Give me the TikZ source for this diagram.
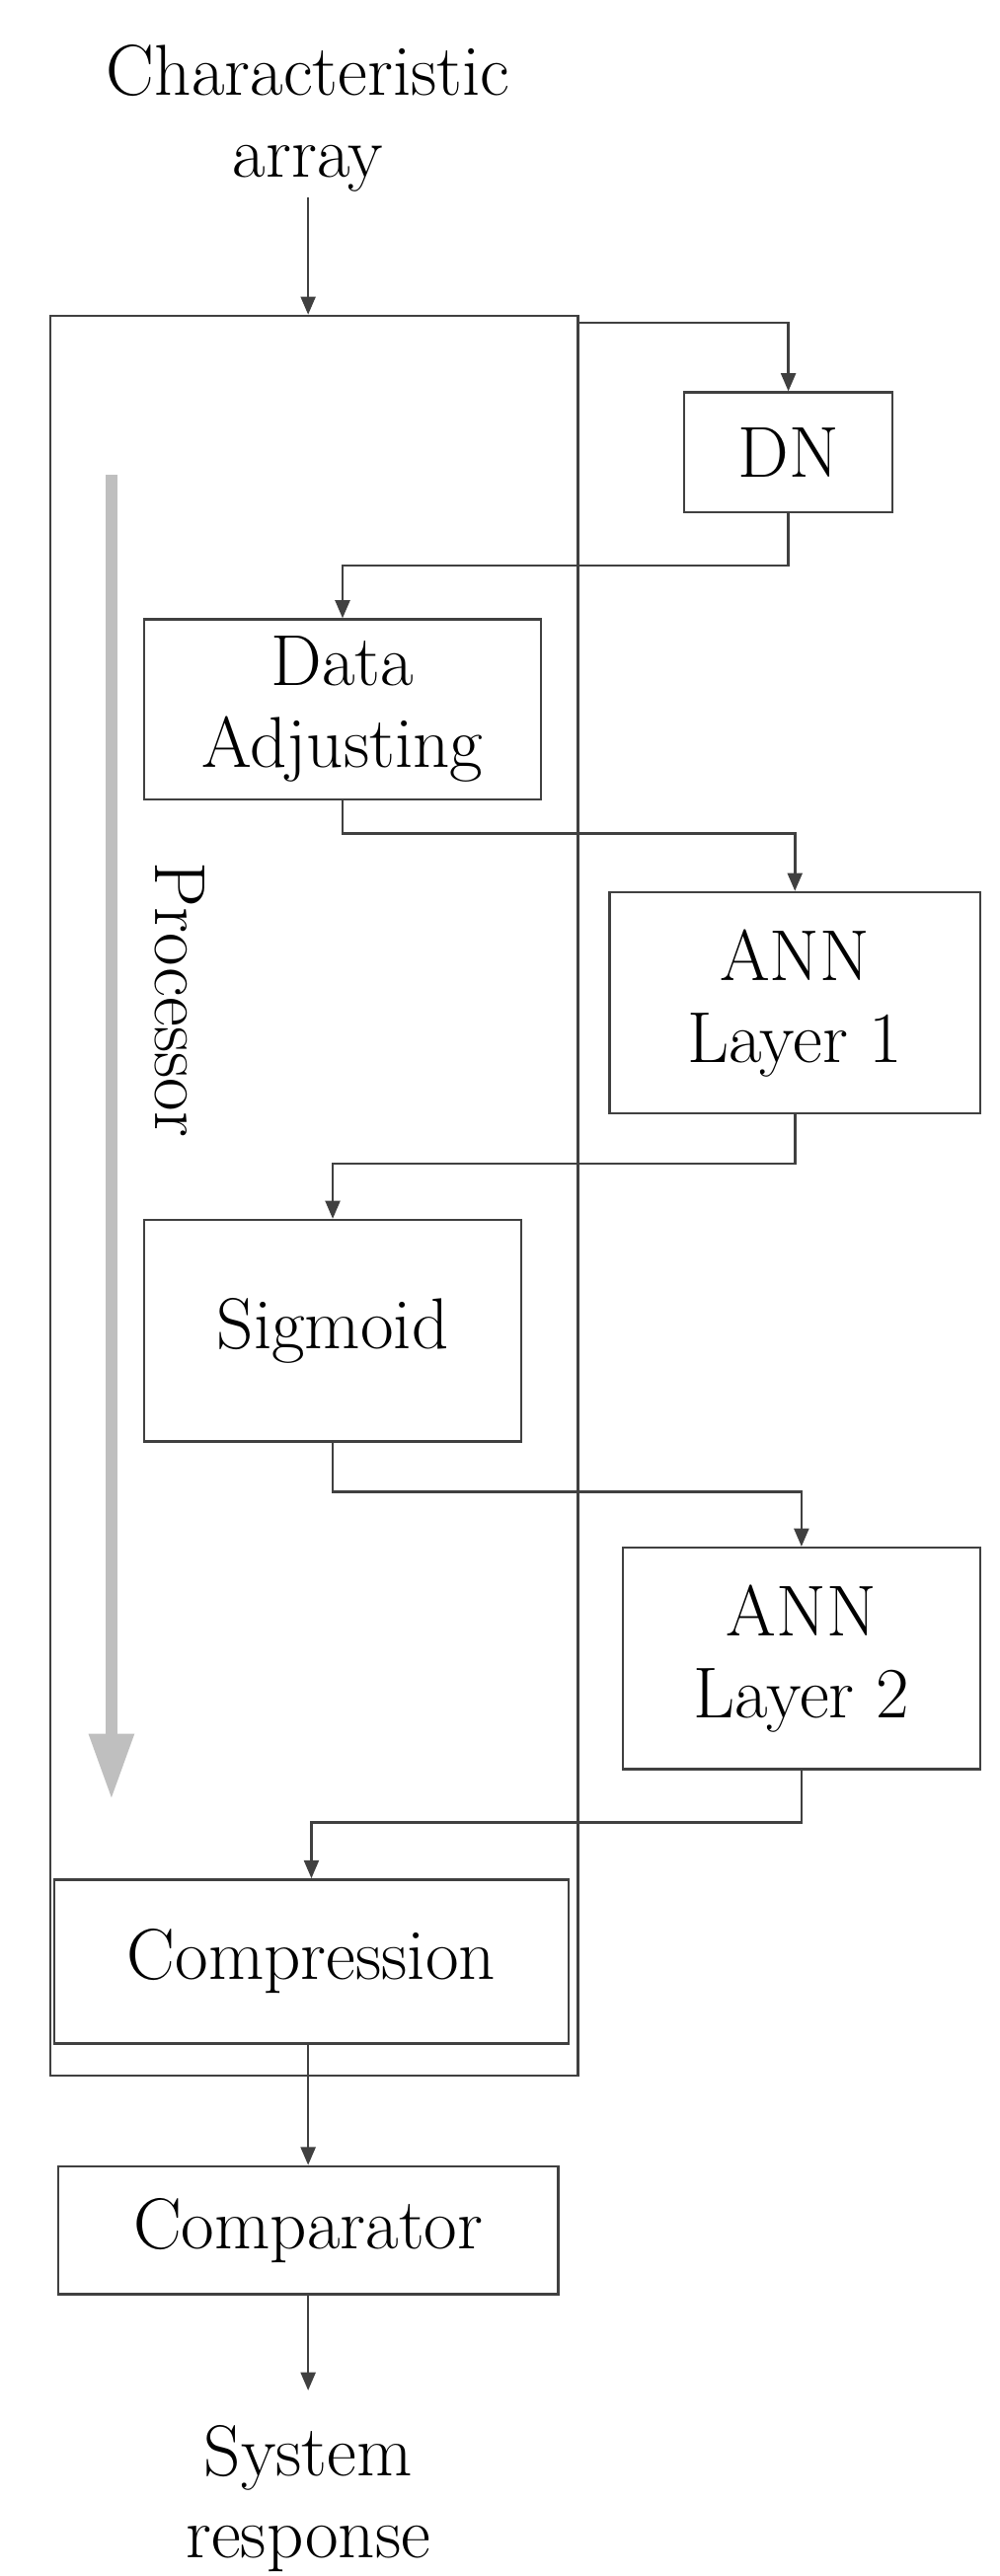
\documentclass[tikz,border=0pt]{standalone}
\usetikzlibrary{positioning,arrows.meta}
\begin{document}
\begin{tikzpicture}[x=1pt,y=-1pt,
block/.style={draw=black!75, line width=1.5pt, inner sep=0pt, align=center, font=\fontsize{44}{50}\selectfont},
label/.style={align=center, font=\fontsize{44}{54}\selectfont},
arrow/.style={-{Triangle[length=11pt,width=9pt]}, draw=black!75, line width=1.5pt},
]
\useasboundingbox (0,0) rectangle (610,1572);

% processor frame
\node[draw=black!75, line width=1.5pt, minimum width=322pt, minimum height=1074pt, anchor=north west, inner sep=0pt] (proc) at (30,192) {};
\draw[-{Triangle[length=40pt,width=26pt]}, draw=black!25, line width=7pt] (68,290) -- (68,1098);
\node[label, rotate=-90] (plabel) at (110,610) {Processor};

\node[label] (input) at (188,72) {Characteristic\\[-4pt]array};
\node[block, minimum width=127pt, minimum height=73pt] (dn) at (481,276) {DN};
\node[block, minimum width=242pt, minimum height=110pt] (adj) at (209,433) {Data\\Adjusting};
\node[block, minimum width=226pt, minimum height=135pt] (ann1) at (485,612) {ANN\\Layer 1};
\node[block, minimum width=230pt, minimum height=135pt] (sig) at (203,812) {Sigmoid};
\node[block, minimum width=218pt, minimum height=135pt] (ann2) at (489,1012) {ANN\\Layer 2};
\node[block, minimum width=314pt, minimum height=100pt] (comp) at (190,1197) {Compression};
\node[block, minimum width=305pt, minimum height=78pt] (cmp) at (188,1361) {Comparator};
\node[label] (output) at (188,1525) {System\\[-4pt]response};

\coordinate (tap) at (352,197);
\draw[arrow] (input) -- (input |- proc.north);
\draw[arrow] (tap) -| (dn.north);
\draw[arrow] (dn.south) -- ++(0,32) -| (adj.north);
\draw[arrow] (adj.south) -- ++(0,20) -| (ann1.north);
\draw[arrow] (ann1.south) -- ++(0,30) -| (sig.north);
\draw[arrow] (sig.south) -- ++(0,30) -| (ann2.north);
\draw[arrow] (ann2.south) -- ++(0,32) -| (comp.north);
\draw[arrow] (cmp.north |- comp.south) -- (cmp.north);
\draw[arrow] (cmp.south) -- ++(0,58);
\end{tikzpicture}
\end{document}
